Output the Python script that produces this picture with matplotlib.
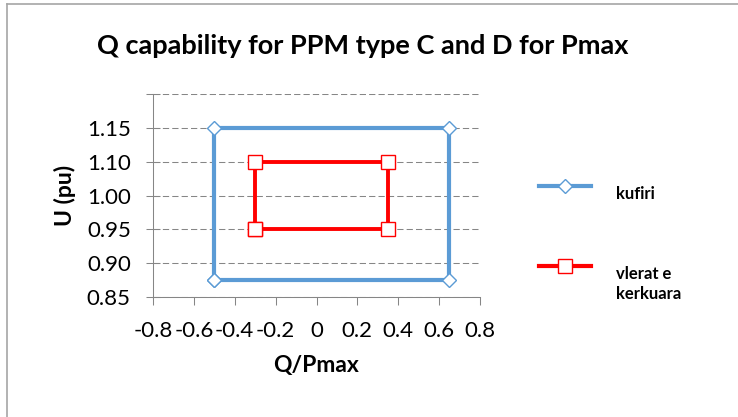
import numpy as np
import matplotlib
matplotlib.use("Agg")
import matplotlib.pyplot as plt
from matplotlib.lines import Line2D
from matplotlib.ticker import FixedLocator, FuncFormatter

plt.rcParams["font.family"] = ["Lato", "DejaVu Sans"]
plt.rcParams["axes.unicode_minus"] = False

# ---- data ---------------------------------------------------------------
# outer limit ("kufiri") and required values ("vlerat e kerkuara")
kufiri_q = [-0.5, -0.5, 0.65, 0.65, -0.5]
kufiri_u = [0.875, 1.15, 1.15, 0.875, 0.875]
kerk_q = [-0.3, -0.3, 0.35, 0.35, -0.3]
kerk_u = [0.95, 1.10, 1.10, 0.95, 0.95]

x_ticks = [-0.8, -0.6, -0.4, -0.2, 0.0, 0.2, 0.4, 0.6, 0.8]
# the y axis labels in the original are not evenly spaced in value
y_ticks = [0.85, 0.90, 0.95, 1.00, 1.10, 1.15, 1.20]
y_labels = ["0.85", "0.90", "0.95", "1.00", "1.10", "1.15", ""]

TITLE = "Q capability for PPM type C and D for Pmax"

BLUE = "#5B9BD5"
RED = "#FF0000"
GRID = "#868686"
BORDER = "#A6A6A6"

W, H = 738, 417
fig = plt.figure(figsize=(W / 100, H / 100), dpi=100)
ax = fig.add_axes([153 / W, 1 - 296.7 / H, (480 - 153) / W, (296.7 - 94.3) / H])

# piecewise scale so the uneven labels sit on evenly spaced ticks
pos = np.arange(len(y_ticks), dtype=float)
fwd = lambda v: np.interp(v, y_ticks, pos)
inv = lambda p: np.interp(p, pos, y_ticks)
ax.set_yscale("function", functions=(fwd, inv))

ax.plot(kufiri_q, kufiri_u, color=BLUE, lw=3, marker="D", ms=7,
        mfc="white", mec=BLUE, mew=1, zorder=3, clip_on=False)
ax.plot(kerk_q, kerk_u, color=RED, lw=2.8, marker="s", ms=9.5,
        mfc="white", mec=RED, mew=1, zorder=4, clip_on=False)

ax.set_xlim(-0.8, 0.8)
ax.set_ylim(0.85, 1.20)
ax.xaxis.set_major_locator(FixedLocator(x_ticks))
ax.xaxis.set_major_formatter(FuncFormatter(lambda v, p: "{:g}".format(round(v, 1) + 0.0)))
ax.yaxis.set_major_locator(FixedLocator(y_ticks))
ax.set_yticklabels(y_labels)
ax.yaxis.set_minor_locator(FixedLocator([]))

ax.grid(axis="y", color=GRID, lw=0.75, linestyle=(0, (6, 3)))
ax.set_axisbelow(True)
for s in ["top", "right"]:
    ax.spines[s].set_visible(False)
for s in ["left", "bottom"]:
    ax.spines[s].set_color(GRID)
    ax.spines[s].set_linewidth(0.75)
ax.tick_params(axis="both", colors=GRID, labelcolor="black", labelsize=16, width=0.75)
ax.tick_params(axis="x", length=5.5, pad=12)
ax.tick_params(axis="y", direction="inout", length=10, pad=11)

ax.set_xlabel("Q/Pmax", fontsize=16.5, fontweight="bold", labelpad=10)
ax.set_ylabel("U (pu)", fontsize=16.5, fontweight="bold", labelpad=8)

fig.text(363 / W, 1 - 46 / H, TITLE, ha="center", va="center",
         fontsize=19.5, fontweight="bold")

# ---- legend drawn by hand so the marker sits on the first text line ----
def legend_entry(y_px, color, marker, ms, label_lines):
    y = 1 - y_px / H
    fig.add_artist(Line2D([539 / W, 591 / W], [y, y], transform=fig.transFigure,
                          color=color, lw=3))
    fig.add_artist(Line2D([565 / W], [y], transform=fig.transFigure, color=color,
                          marker=marker, ms=ms, mfc="white", mec=color, mew=1))
    for i, t in enumerate(label_lines):
        fig.text(616 / W, 1 - (y_px + 13 + 20 * i) / H, t, ha="left",
                 va="baseline", fontsize=12, fontweight="bold")

legend_entry(186, BLUE, "D", 7, ["kufiri"])
legend_entry(266, RED, "s", 9.5, ["vlerat e", "kerkuara"])

# chart border (only left and top edges are visible in the original)
fig.add_artist(Line2D([7 / W, 7 / W], [0, 1 - 4 / H], transform=fig.transFigure,
                      color=BORDER, lw=1.2))
fig.add_artist(Line2D([7 / W, 1], [1 - 4 / H, 1 - 4 / H], transform=fig.transFigure,
                      color=BORDER, lw=1.2))

fig.savefig("out.png", dpi=100)
